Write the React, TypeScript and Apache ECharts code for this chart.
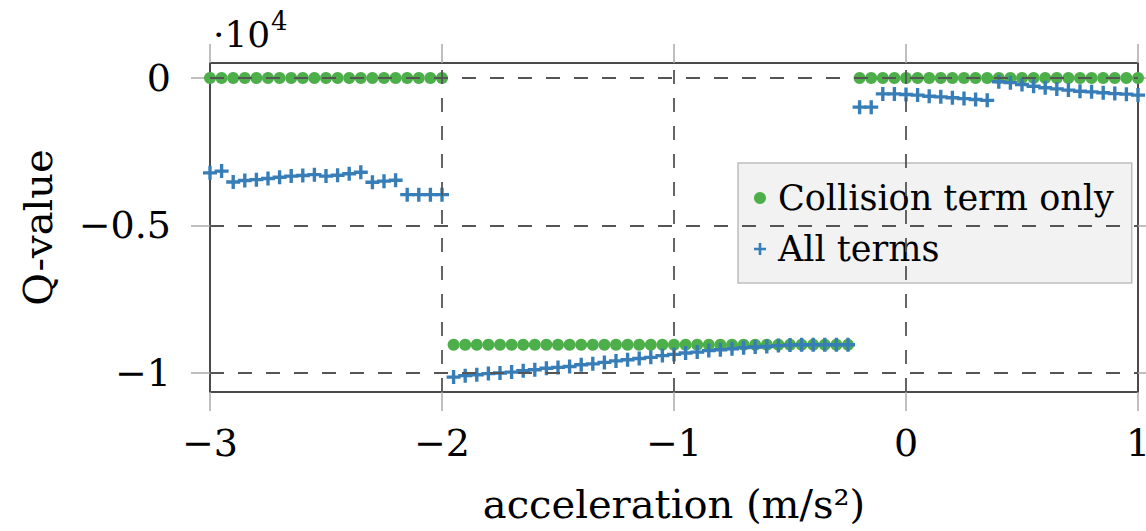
import React, { useEffect, useRef } from "react";
import * as echarts from "echarts";

// acceleration (m/s^2), segment by segment
const xSeg1 = [-3.0, -2.95, -2.9, -2.85, -2.8, -2.75, -2.7, -2.65, -2.6, -2.55, -2.5, -2.45, -2.4, -2.35, -2.3, -2.25, -2.2, -2.15, -2.1, -2.05, -2.0];
const xSeg2 = [-1.95, -1.9, -1.85, -1.8, -1.75, -1.7, -1.65, -1.6, -1.55, -1.5, -1.45, -1.4, -1.35, -1.3, -1.25, -1.2, -1.15, -1.1, -1.05, -1.0, -0.95, -0.9, -0.85, -0.8, -0.75, -0.7, -0.65, -0.6, -0.55, -0.5, -0.45, -0.4, -0.35, -0.3, -0.25];
const xSeg3 = [-0.2, -0.15, -0.1, -0.05, 0.0, 0.05, 0.1, 0.15, 0.2, 0.25, 0.3, 0.35, 0.4, 0.45, 0.5, 0.55, 0.6, 0.65, 0.7, 0.75, 0.8, 0.85, 0.9, 0.95, 1.0];

// Q-value (x 10^4) – Collision term only
const collisionSeg1 = [0, 0, 0, 0, 0, 0, 0, 0, 0, 0, 0, 0, 0, 0, 0, 0, 0, 0, 0, 0, 0];
const collisionSeg2 = [-0.905, -0.905, -0.905, -0.905, -0.905, -0.905, -0.905, -0.905, -0.905, -0.905, -0.905, -0.905, -0.905, -0.905, -0.905, -0.905, -0.905, -0.905, -0.905, -0.905, -0.905, -0.905, -0.905, -0.905, -0.905, -0.905, -0.905, -0.905, -0.905, -0.905, -0.905, -0.905, -0.905, -0.905, -0.905];
const collisionSeg3 = [0, 0, 0, 0, 0, 0, 0, 0, 0, 0, 0, 0, 0, 0, 0, 0, 0, 0, 0, 0, 0, 0, 0, 0, 0];

// Q-value (x 10^4) – All terms
const allSeg1 = [-0.322, -0.316, -0.353, -0.348, -0.345, -0.341, -0.337, -0.333, -0.331, -0.328, -0.333, -0.33, -0.325, -0.32, -0.354, -0.35, -0.347, -0.396, -0.396, -0.396, -0.396];
const allSeg2 = [-1.015, -1.01, -1.007, -1.003, -1.001, -0.998, -0.993, -0.99, -0.985, -0.982, -0.979, -0.973, -0.97, -0.965, -0.96, -0.956, -0.952, -0.948, -0.942, -0.938, -0.933, -0.93, -0.925, -0.922, -0.919, -0.915, -0.913, -0.911, -0.908, -0.906, -0.905, -0.905, -0.905, -0.905, -0.905];
const allSeg3 = [-0.099, -0.099, -0.054, -0.054, -0.056, -0.058, -0.062, -0.064, -0.067, -0.07, -0.073, -0.076, -0.013, -0.016, -0.022, -0.028, -0.033, -0.037, -0.041, -0.045, -0.047, -0.05, -0.053, -0.055, -0.058];

const yTicks = [-1, -0.5, 0];
const xGridValues = [-2, -1, 0];
const yGridValues = [0, -0.5, -1];
const seriesNames = ["Collision term only", "All terms"];

const FONT = "DejaVu Serif";
const GREEN = "#4daf4a";
const BLUE = "#377eb8";
const PLUS = "path://M3.9,0H6.1V3.9H10V6.1H6.1V10H3.9V6.1H0V3.9H3.9Z";
const PLUS_BOLD = "path://M3.8,0H6.2V3.8H10V6.2H6.2V10H3.8V6.2H0V3.8H3.8Z";

const fmt = (v: number) => (v < 0 ? "\u2212" + String(Math.abs(v)) : String(v));

export default function App() {
  const ref = useRef<HTMLDivElement>(null);
  useEffect(() => {
    if (!ref.current) return;
    const chart = echarts.init(ref.current, null, { renderer: "svg" });
    const xs = [...xSeg1, ...xSeg2, ...xSeg3];
    const coll = [...collisionSeg1, ...collisionSeg2, ...collisionSeg3];
    const all = [...allSeg1, ...allSeg2, ...allSeg3];
    const tickStyle = { color: "#aaaaaa", width: 1.5 };
    const axisLine = { show: true, onZero: false, lineStyle: { color: "#4a4a4a", width: 2 } };
    chart.setOption({
      animation: false,
      grid: { left: 210, right: 8, top: 63, bottom: 139, outerBoundsMode: "none", containLabel: false },
      xAxis: [
        {
          type: "value", min: -3, max: 1, interval: 1, position: "bottom",
          axisLine, splitLine: { show: false },
          axisTick: { show: true, inside: false, length: 19, lineStyle: tickStyle },
          axisLabel: { margin: 32, fontSize: 38, fontFamily: FONT, color: "#000", formatter: fmt },
          name: "acceleration (m/s\u00b2)", nameLocation: "middle", nameGap: 92,
          nameTextStyle: { fontSize: 40, fontFamily: FONT, color: "#000" },
        },
        {
          type: "value", min: -3, max: 1, interval: 1, position: "top",
          axisLine, splitLine: { show: false },
          axisTick: { show: true, inside: false, length: 19, lineStyle: tickStyle },
          axisLabel: { show: false },
        },
      ],
      yAxis: [
        {
          type: "value", min: -1.0655, max: 0.0508, position: "left",
          axisLine, splitLine: { show: false },
          axisTick: { show: true, inside: false, length: 19, lineStyle: tickStyle, customValues: yTicks },
          axisLabel: { margin: 39, fontSize: 38, fontFamily: FONT, color: "#000", formatter: fmt, customValues: yTicks },
          name: "Q-value", nameLocation: "middle", nameGap: 152,
          nameTextStyle: { fontSize: 40, fontFamily: FONT, color: "#000" },
        },
        {
          type: "value", min: -1.0655, max: 0.0508, position: "right",
          axisLine, splitLine: { show: false },
          axisTick: { show: true, inside: false, length: 19, lineStyle: tickStyle, customValues: yTicks },
          axisLabel: { show: false, customValues: yTicks },
        },
      ],
      legend: {
        orient: "vertical", left: 738, top: 163,
        backgroundColor: "#f2f2f2", borderColor: "#bdbdbd", borderWidth: 1.5, borderRadius: 0,
        padding: [15, 18, 14, 16], itemGap: 11, itemWidth: 12, itemHeight: 12,
        textStyle: { fontSize: 35, fontFamily: FONT, color: "#000", lineHeight: 40, padding: [0, 0, 0, 7] },
        data: [
          { name: seriesNames[0], icon: "circle" },
          { name: seriesNames[1], icon: PLUS },
        ],
      },
      graphic: [
        { type: "text", x: 213, y: 34, style: { text: "\u00b710", fontSize: 36, fontFamily: FONT, fill: "#000", verticalAlign: "middle" } },
        { type: "text", x: 271, y: 21, style: { text: "4", fontSize: 26, fontFamily: FONT, fill: "#000", verticalAlign: "middle" } },
      ],
      series: [
        {
          type: "line", data: [], z: 1, silent: true,
          markLine: {
            silent: true, symbol: ["none", "none"], label: { show: false }, animation: false,
            lineStyle: { type: [14, 14], color: "#555555", width: 1.8 },
            data: [
              ...xGridValues.map((v) => ({ xAxis: v })),
              ...yGridValues.map((v) => ({ yAxis: v })),
            ],
          },
        },
        {
          name: seriesNames[0], type: "scatter", z: 3, clip: false,
          symbol: "circle", symbolSize: 12, itemStyle: { color: GREEN, opacity: 1 },
          data: xs.map((x, i) => [x, coll[i]]),
        },
        {
          name: seriesNames[1], type: "scatter", z: 4, clip: false,
          symbol: PLUS_BOLD, symbolSize: 14, itemStyle: { color: BLUE, opacity: 1 },
          data: xs.map((x, i) => [x, all[i]]),
        },
      ],
    });
    return () => chart.dispose();
  }, []);
  return <div ref={ref} style={{ position: "absolute", left: 0, top: 0, width: 1146, height: 531 }} />;
}
